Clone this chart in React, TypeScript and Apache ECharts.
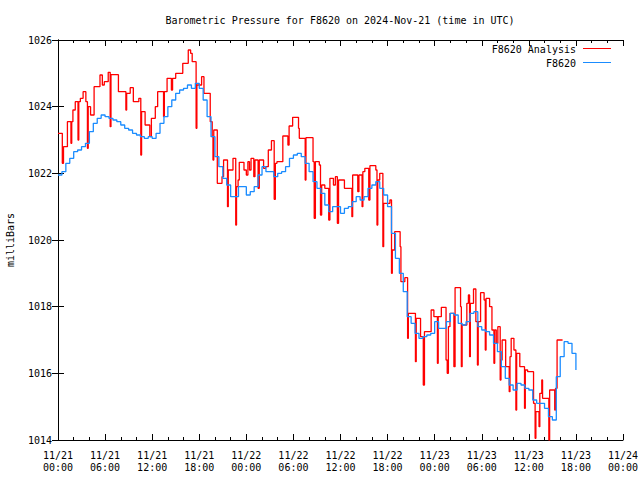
import React, { useEffect, useRef } from "react";
import * as echarts from "echarts";

const titleText = "Barometric Pressure for F8620 on 2024-Nov-21 (time in UTC)";
const yAxisName = "milliBars";
const seriesNames = ["F8620 Analysis", "F8620"];
const yTicks = { min: 1014, max: 1026, step: 2 };
const xHours = { min: 0, max: 72, step: 6 };
const startMonth = 11;
const startDay = 21;

// F8620 observed pressure, every half hour from 11/21 00:00 (UTC)
const blueStepHours = 0.5;
const blueValues = [
  1021.95, 1022.05, 1022.3, 1022.45, 1022.65, 1022.7, 1022.8, 1022.9, 1023.25, 1023.5,
  1023.65, 1023.75, 1023.7, 1023.65, 1023.6, 1023.55, 1023.45, 1023.35, 1023.3, 1023.2,
  1023.15, 1023.1, 1023.05, 1023.1, 1023.05, 1023.2, 1023.5, 1023.7, 1024.0, 1024.2,
  1024.4, 1024.5, 1024.55, 1024.65, 1024.55, 1024.7, 1024.55, 1024.2, 1023.7, 1023.1,
  1022.5, 1022.2, 1021.85, 1021.65, 1021.3, 1021.3, 1021.6, 1021.6, 1021.35, 1021.45,
  1021.6, 1021.95, 1022.2, 1022.05, 1022.05, 1021.9, 1022.0, 1022.05, 1022.2, 1022.45,
  1022.55, 1022.6, 1022.5, 1022.3, 1022.05, 1021.75, 1021.55, 1021.4, 1021.05, 1020.85,
  1021.0, 1021.0, 1020.8, 1020.95, 1021.0, 1021.15, 1021.3, 1021.2, 1021.3, 1021.55,
  1021.65, 1021.75, 1021.55, 1021.35, 1021.0, 1020.2, 1019.45, 1019.0, 1018.45, 1017.7,
  1017.5, 1017.2, 1017.05, 1017.1, 1017.15, 1017.2, 1017.55, 1017.35, 1017.35, 1017.55,
  1017.8, 1017.75, 1017.5, 1017.45, 1017.55, 1017.8, 1017.85, 1017.4, 1017.3, 1017.25,
  1017.15, 1016.9, 1016.65, 1016.2, 1015.85, 1015.65, 1015.5, 1015.7, 1015.65, 1015.55,
  1015.5, 1015.2, 1015.1, 1015.1, 1014.95, 1014.7, 1014.6, 1015.9, 1016.5, 1016.95,
  1016.9, 1016.6, 1016.1,
];

// F8620 Analysis: hours since 11/21 00:00 where the value changes, and the value
const redHours = [
  0, 0.55, 0.7, 1.2, 1.65, 1.75, 1.9, 2.2, 2.55, 2.65, 2.85, 3.2, 3.55, 3.75, 3.85, 4.15,
  4.6, 5.35, 5.65, 5.9, 6.4, 6.65, 6.75, 7.7, 8.65, 8.75, 9.2, 9.6, 10.3, 10.55, 10.65,
  11.1, 11.7, 11.9, 12.4, 12.7, 13.45, 13.55, 13.9, 14.45, 14.6, 15.0, 15.9, 16.6, 16.9,
  17.1, 17.6, 17.7, 18.3, 18.6, 19.4, 19.65, 19.75, 19.85, 20.3, 20.9, 21.1, 21.6, 21.7,
  22.3, 22.65, 22.75, 22.95, 23.1, 23.7, 24.0, 24.2, 24.4, 24.6, 24.95, 25.1, 25.5, 25.65,
  26.2, 26.45, 26.8, 27.2, 27.55, 27.7, 27.9, 28.65, 29.3, 29.45, 29.9, 30.65, 30.75,
  31.5, 31.6, 32.5, 32.65, 32.8, 33.3, 33.45, 33.6, 34.0, 34.5, 34.65, 35.1, 35.35, 35.6,
  35.75, 36.5, 37.45, 37.55, 38.2, 38.35, 38.75, 38.85, 39.1, 39.6, 39.75, 40.5, 40.65,
  40.75, 41.0, 41.4, 41.5, 42.3, 42.5, 42.6, 42.9, 43.6, 43.7, 44.2, 44.55, 44.65, 45.55,
  45.65, 46.2, 46.55, 46.7, 47.55, 47.9, 48.35, 48.45, 48.85, 49.45, 49.6, 49.75, 49.95,
  50.45, 50.6, 51.3, 51.4, 51.5, 52.1, 52.3, 52.45, 52.55, 52.95, 53.25, 53.45, 53.55,
  53.85, 54.3, 54.45, 54.55, 55.0, 55.3, 55.55, 55.65, 55.85, 56.05, 56.35, 56.45, 56.6,
  57.05, 57.5, 57.6, 57.75, 58.1, 58.35, 58.45, 58.85, 59.45, 59.55, 59.85, 60.6, 60.8,
  60.9, 61.3, 61.4, 61.65, 61.75, 62.55, 62.65, 63.3, 63.4, 63.6, 64.3,
];
const redValues = [
  1023.2, 1022.3, 1022.8, 1023.55, 1022.9, 1023.55, 1023.9, 1024.15, 1023.0, 1024.15,
  1024.25, 1024.45, 1024.15, 1022.75, 1024.0, 1023.75, 1024.6, 1024.95, 1024.65, 1024.75,
  1025.03, 1023.4, 1024.96, 1024.45, 1023.9, 1024.4, 1024.57, 1024.15, 1024.25, 1022.55,
  1023.85, 1023.45, 1023.1, 1023.65, 1024.0, 1024.45, 1023.7, 1024.45, 1024.85, 1024.5,
  1024.85, 1025.0, 1025.3, 1025.7, 1025.6, 1025.35, 1023.35, 1024.65, 1024.9, 1024.4,
  1023.55, 1023.1, 1022.4, 1023.3, 1021.7, 1021.9, 1022.4, 1021.0, 1022.1, 1022.45,
  1020.45, 1021.6, 1021.8, 1022.33, 1022.1, 1021.95, 1022.35, 1022.1, 1022.45, 1021.9,
  1022.4, 1021.55, 1022.4, 1022.15, 1022.2, 1022.7, 1022.98, 1021.22, 1022.3, 1022.35,
  1023.12, 1022.85, 1023.42, 1023.68, 1023.35, 1023.05, 1021.8, 1023.07, 1022.35, 1020.65,
  1022.35, 1022.25, 1020.75, 1021.65, 1021.55, 1020.6, 1021.85, 1021.65, 1021.9, 1020.5,
  1021.8, 1021.55, 1020.7, 1021.95, 1021.45, 1021.95, 1021.0, 1022.05, 1022.15, 1021.2,
  1022.23, 1022.1, 1020.45, 1021.8, 1022.0, 1019.8, 1021.1, 1021.2, 1019.0, 1019.7,
  1020.25, 1019.8, 1018.75, 1018.87, 1017.05, 1017.8, 1016.35, 1017.65, 1017.1, 1015.65,
  1017.25, 1017.9, 1017.7, 1016.3, 1017.7, 1017.98, 1016.4, 1016.0, 1017.4, 1017.8,
  1016.2, 1018.57, 1018.0, 1016.2, 1017.45, 1018.1, 1018.35, 1016.5, 1018.1, 1018.53,
  1017.55, 1016.25, 1017.55, 1018.42, 1018.2, 1016.7, 1018.25, 1018.0, 1017.3, 1016.3,
  1017.3, 1016.9, 1017.4, 1015.8, 1016.4, 1017.0, 1016.2, 1015.45, 1016.5, 1017.05,
  1016.7, 1014.9, 1016.6, 1016.2, 1014.95, 1016.1, 1016.05, 1015.1, 1014.05, 1014.85,
  1014.4, 1015.4, 1015.8, 1015.25, 1014.0, 1015.5, 1014.9, 1015.55, 1017.0, 1017.0,
];

const RED = "#ff0000";
const BLUE = "#1a8cff";
const FONT = "'DejaVu Sans Mono', 'Liberation Mono', monospace";

function pad(n: number) {
  return n < 10 ? "0" + n : String(n);
}

export default function App() {
  const ref = useRef<HTMLDivElement>(null);
  useEffect(() => {
    if (!ref.current) return;
    const chart = echarts.init(ref.current, null, { renderer: "svg" });
    const blueData = blueValues.map((v, i) => [i * blueStepHours, v]);
    const redData = redHours.map((h, i) => [h, redValues[i]]);
    const xLabel = (v: number) => {
      const day = startDay + Math.floor(v / 24);
      const hh = Math.round(v % 24);
      return pad(startMonth) + "/" + day + "\n" + pad(hh) + ":00";
    };
    const axisLine = { show: true, lineStyle: { color: "#000", width: 1 } };
    const tick = { show: true, inside: true, length: 6, lineStyle: { color: "#000" } };
    const minor = { show: true, splitNumber: 3, length: 3, lineStyle: { color: "#000" } };
    const textStyle = { fontFamily: FONT, fontSize: 10, color: "#000" };
    chart.setOption({
      animation: false,
      backgroundColor: "#fff",
      grid: { left: 58, right: 17, top: 40, bottom: 40, containLabel: false, outerBoundsMode: "none" },
      graphic: [
        {
          type: "text",
          x: 340,
          y: 20,
          style: { text: titleText, fill: "#000", textAlign: "center", textVerticalAlign: "middle", font: `10px ${FONT}` },
        },
        {
          type: "text",
          x: 576,
          y: 49,
          style: { text: seriesNames[0], fill: "#000", textAlign: "right", textVerticalAlign: "middle", font: `10px ${FONT}` },
        },
        { type: "line", shape: { x1: 583, y1: 48.5, x2: 611, y2: 48.5 }, style: { stroke: RED, lineWidth: 1 } },
        {
          type: "text",
          x: 576,
          y: 63,
          style: { text: seriesNames[1], fill: "#000", textAlign: "right", textVerticalAlign: "middle", font: `10px ${FONT}` },
        },
        { type: "line", shape: { x1: 583, y1: 62.5, x2: 611, y2: 62.5 }, style: { stroke: BLUE, lineWidth: 1 } },
      ],
      xAxis: [
        {
          type: "value",
          position: "bottom",
          min: xHours.min,
          max: xHours.max,
          interval: xHours.step,
          axisLine,
          axisTick: tick,
          minorTick: minor,
          splitLine: { show: false },
          axisLabel: { ...textStyle, margin: 9, lineHeight: 12, formatter: xLabel, showMinLabel: true, showMaxLabel: true },
        },
        {
          type: "value",
          position: "top",
          min: xHours.min,
          max: xHours.max,
          interval: xHours.step,
          axisLine,
          axisTick: tick,
          minorTick: minor,
          splitLine: { show: false },
          axisLabel: { show: false },
        },
      ],
      yAxis: [
        {
          type: "value",
          position: "left",
          min: yTicks.min,
          max: yTicks.max,
          interval: yTicks.step,
          axisLine,
          axisTick: tick,
          splitLine: { show: false },
          axisLabel: { ...textStyle, margin: 6, formatter: (v: number) => String(v) },
          name: yAxisName,
          nameLocation: "middle",
          nameGap: 43,
          nameTextStyle: { ...textStyle },
        },
        {
          type: "value",
          position: "right",
          min: yTicks.min,
          max: yTicks.max,
          interval: yTicks.step,
          axisLine,
          axisTick: tick,
          splitLine: { show: false },
          axisLabel: { show: false },
        },
      ],
      series: [
        {
          name: seriesNames[0],
          type: "line",
          step: "end",
          data: redData,
          showSymbol: false,
          symbol: "none",
          lineStyle: { color: RED, width: 1.3 },
          itemStyle: { color: RED },
          xAxisIndex: 0,
          yAxisIndex: 0,
          z: 2,
        },
        {
          name: seriesNames[1],
          type: "line",
          step: "end",
          data: blueData,
          showSymbol: false,
          symbol: "none",
          lineStyle: { color: BLUE, width: 1.3 },
          itemStyle: { color: BLUE },
          xAxisIndex: 0,
          yAxisIndex: 0,
          z: 3,
        },
      ],
    });
    return () => chart.dispose();
  }, []);
  return <div ref={ref} style={{ width: 640, height: 480, position: "absolute", left: 0, top: 0 }} />;
}
